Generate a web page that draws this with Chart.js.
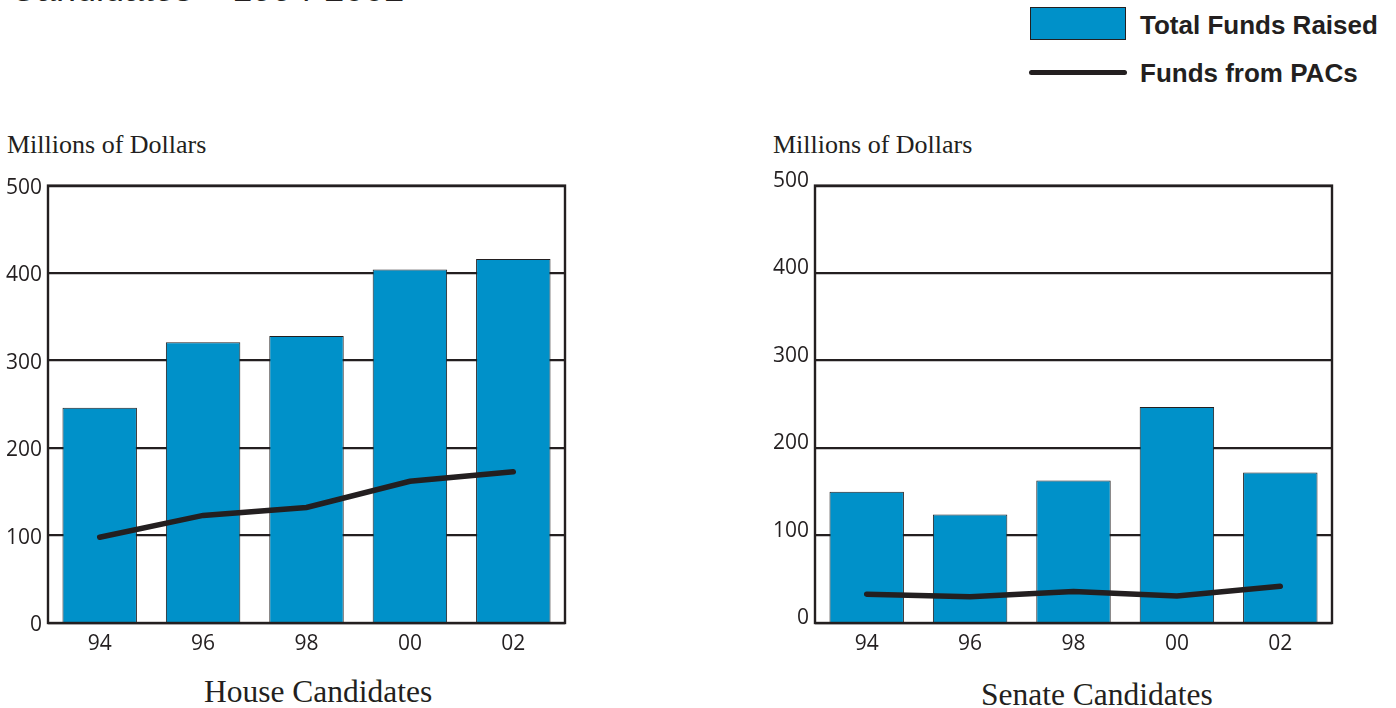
<!DOCTYPE html>
<html>
<head>
<meta charset="utf-8">
<script src="https://cdn.jsdelivr.net/npm/chart.js@4"></script>
<style>
    body { margin: 0; background: #fff; width: 1396px; height: 708px; overflow: hidden; position: relative; color: #231f20; }
    .abs { position: absolute; white-space: nowrap; }
    .title { font-family: "Liberation Sans", Arial, sans-serif; font-size: 36px; line-height: 36px; left: 10px; top: -29px; }
    .unit { font-family: "Liberation Serif", "Times New Roman", serif; font-size: 26px; line-height: 30px; }
    .cap { font-family: "Liberation Serif", "Times New Roman", serif; font-size: 31.5px; line-height: 34px; }
    .leg { font-family: "Liberation Sans", Arial, sans-serif; font-weight: bold; font-size: 26px; line-height: 30px; }
    canvas { position: absolute; }
</style>
</head>
<body>
<div class="abs title">Candidates – 1994-2002</div>

<div class="abs" style="left:1030px;top:7px;width:94px;height:31px;background:#0091c9;border:1px solid #231f20;"></div>
<div class="abs leg" style="left:1140px;top:10px;">Total Funds Raised</div>
<div class="abs" style="left:1029px;top:70px;width:98px;height:5px;background:#231f20;border-radius:3px;"></div>
<div class="abs leg" style="left:1140px;top:58px;">Funds from PACs</div>

<div class="abs unit" style="left:7px;top:130px;">Millions of Dollars</div>
<div class="abs unit" style="left:773px;top:130px;">Millions of Dollars</div>

<canvas id="house" width="572" height="493" style="left:0px;top:167px;"></canvas>
<canvas id="senate" width="572" height="493" style="left:767px;top:167px;"></canvas>

<div class="abs cap" style="left:204px;top:675px;">House Candidates</div>
<div class="abs cap" style="left:981px;top:678px;">Senate Candidates</div>

<script>
// election years
const years = ["94", "96", "98", "00", "02"];
// millions of dollars
const houseTotal = [246, 321, 328, 404, 416];
const housePAC = [98, 123, 132, 162, 173];
const senateTotal = [150, 124, 163, 247, 172];
const senatePAC = [33, 30, 36, 31, 42];
const yTicks = [0, 100, 200, 300, 400, 500];

const ink = '#231f20';
const blue = '#0091c9';

// box around the plot area
const frame = {
    id: 'frame',
    afterDraw(chart) {
        const a = chart.chartArea;
        const ctx = chart.ctx;
        ctx.save();
        ctx.strokeStyle = ink;
        ctx.lineWidth = 2.4;
        ctx.strokeRect(a.left, a.top, a.right - a.left, a.bottom - a.top);
        ctx.restore();
    }
};

function makeChart(id, totals, pacs, lblOff) {
    const ctx = document.getElementById(id).getContext('2d');
    return new Chart(ctx, {
        data: {
            labels: years,
            datasets: [{
                type: 'line',
                label: 'Funds from PACs',
                data: pacs,
                borderColor: ink,
                borderWidth: 5.5,
                pointRadius: 0,
                tension: 0,
                borderCapStyle: 'round',
                order: 0
            }, {
                type: 'bar',
                label: 'Total Funds Raised',
                data: totals,
                backgroundColor: blue,
                borderColor: ink,
                borderWidth: 1,
                categoryPercentage: 1,
                barPercentage: 0.72,
                order: 1
            }]
        },
        options: {
            responsive: false,
            animation: false,
            devicePixelRatio: 1,
            layout: { padding: { top: 11, right: 7, left: 0, bottom: 0 } },
            plugins: { legend: { display: false }, tooltip: { enabled: false } },
            scales: {
                x: {
                    grid: { display: false },
                    border: { display: false },
                    ticks: { color: ink, font: { family: 'Open Sans', size: 21 }, padding: 0 },
                    afterFit(s) { s.height = 37; }
                },
                y: {
                    min: 0,
                    max: 500,
                    afterBuildTicks(s) { s.ticks = yTicks.map(v => ({ value: v })); },
                    grid: { color: ink, lineWidth: 2.2, drawTicks: false },
                    border: { display: false },
                    ticks: { color: ink, font: { family: 'Open Sans', size: 21 }, padding: 6, labelOffset: lblOff },
                    afterFit(s) { s.width = 48; }
                }
            }
        },
        plugins: [frame]
    });
}

makeChart('house', houseTotal, housePAC, 2);
makeChart('senate', senateTotal, senatePAC, -5);
</script>
</body>
</html>
